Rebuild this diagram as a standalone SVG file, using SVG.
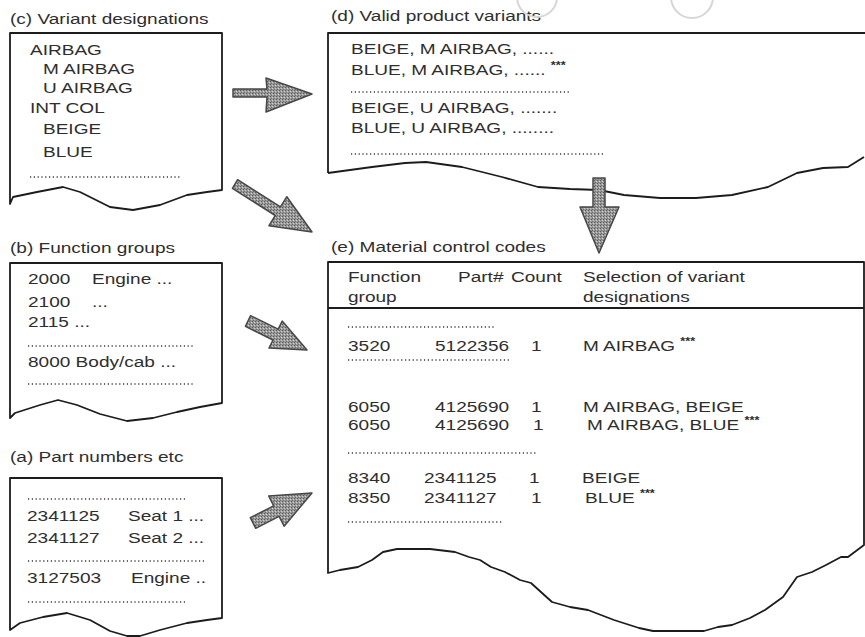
<svg xmlns="http://www.w3.org/2000/svg" width="865" height="637" viewBox="0 0 865 637">
<defs>
<style>
.t{font-family:"Liberation Sans",Arial,sans-serif;font-size:15px;fill:#2e2e2e;transform-box:fill-box;transform-origin:0 0;transform:scaleX(1.27)}
.ast{font-size:10px;font-weight:bold}
.box{fill:#fff;stroke:#1c1c1c;stroke-width:1.8;stroke-linejoin:round}
.open{fill:none;stroke:#1c1c1c;stroke-width:1.8;stroke-linejoin:round}
.dot{stroke:#3a3a3a;stroke-width:1.3;stroke-dasharray:1.2 2.6;fill:none}
.arrow{fill:url(#stipple);stroke:#474747;stroke-width:1.5;stroke-linejoin:round}
.hole{fill:none;stroke:#d6d6d6;stroke-width:2}
</style>
<pattern id="stipple" width="3" height="3" patternUnits="userSpaceOnUse">
<rect width="3" height="3" fill="#9a9a9a"/>
<rect width="1" height="1" fill="#5a5a5a"/>
<rect x="2" y="1" width="1" height="1" fill="#cfcfcf"/>
<rect x="1" y="2" width="1" height="1" fill="#6e6e6e"/>
</pattern>
</defs>
<rect width="865" height="637" fill="#fff"/>

<g id="panel-c">
<text class="t" x="10" y="24">(c) Variant designations</text>
<path class="box" d="M10,204 L10,33 L222,33 L222,190 L207,192 L187,195 L160,205 L133,210 L110,207 L80,192 L63,187 L37,192 L13,197 Z"/>
<text class="t" x="30" y="55">AIRBAG</text>
<text class="t" x="43" y="74">M AIRBAG</text>
<text class="t" x="43" y="93">U AIRBAG</text>
<text class="t" x="30" y="113">INT COL</text>
<text class="t" x="43" y="134">BEIGE</text>
<text class="t" x="43" y="157">BLUE</text>
<line class="dot" x1="30" y1="177" x2="180" y2="177"/>
</g>

<g id="panel-b">
<text class="t" x="10" y="253">(b) Function groups</text>
<path class="box" d="M10,418 L10,263 L222,263 L222,403 L200,407 L177,412 L153,418 L127,421 L100,414 L77,405 L58,400 L40,405 L15,413 Z"/>
<text class="t" x="28" y="284">2000</text>
<text class="t" x="92" y="284">Engine ...</text>
<text class="t" x="28" y="307">2100</text>
<text class="t" x="92" y="307">...</text>
<text class="t" x="28" y="327">2115 ...</text>
<line class="dot" x1="28" y1="346" x2="193" y2="346"/>
<text class="t" x="28" y="367">8000 Body/cab ...</text>
<line class="dot" x1="28" y1="384" x2="193" y2="384"/>
</g>

<g id="panel-a">
<text class="t" x="10" y="462">(a) Part numbers etc</text>
<path class="box" d="M10,630 L10,478 L222,478 L222,618 L207,620 L187,623 L160,630 L140,636 L127,636 L110,631 L90,620 L67,613 L43,617 L20,623 Z"/>
<line class="dot" x1="28" y1="499" x2="187" y2="499"/>
<text class="t" x="27" y="521">2341125</text>
<text class="t" x="128" y="521">Seat 1 ...</text>
<text class="t" x="27" y="543">2341127</text>
<text class="t" x="128" y="543">Seat 2 ...</text>
<line class="dot" x1="28" y1="561" x2="205" y2="561"/>
<text class="t" x="27" y="583">3127503</text>
<text class="t" x="131" y="583">Engine ..</text>
<line class="dot" x1="28" y1="602" x2="187" y2="602"/>
</g>

<g id="panel-d">
<text class="t" x="331" y="21">(d) Valid product variants</text>
<path class="open" d="M328,173 L328,33 L865,33 M864,157 L848,167 L823,168 L797,173 L768,187 L732,195 L696,198 L660,198 L624,195 L599,190 L570,189 L538,187 L502,177 L462,167 L426,162 L405,163 L372,167 L328,173"/>
<text class="t" x="351" y="54">BEIGE, M AIRBAG, ......</text>
<text class="t" x="351" y="75">BLUE, M AIRBAG, ...... <tspan class="ast" dy="-6">***</tspan></text>
<line class="dot" x1="351" y1="92" x2="569" y2="92"/>
<text class="t" x="351" y="113">BEIGE, U AIRBAG, .......</text>
<text class="t" x="351" y="133">BLUE, U AIRBAG, ........</text>
<line class="dot" x1="351" y1="154" x2="605" y2="154"/>
</g>

<g id="panel-e">
<text class="t" x="331" y="252">(e) Material control codes</text>
<path class="box" d="M328,573 L328,262 L864,262 L864,545 L848,557 L841,557 L826,565 L812,572 L797,577 L783,597 L765,610 L750,618 L732,625 L718,627 L704,631 L653,631 L639,628 L614,620 L588,610 L570,607 L552,602 L531,583 L520,580 L505,572 L491,567 L480,560 L469,557 L455,552 L430,549 L397,549 L383,552 L372,560 L358,567 L340,570 Z"/>
<line class="open" x1="328" y1="308" x2="864" y2="308"/>
<text class="t" x="348" y="282">Function</text>
<text class="t" x="458" y="282">Part#</text>
<text class="t" x="511" y="282">Count</text>
<text class="t" x="583" y="282">Selection of variant</text>
<text class="t" x="348" y="302">group</text>
<text class="t" x="583" y="302">designations</text>
<line class="dot" x1="348" y1="327" x2="496" y2="327"/>
<text class="t" x="348" y="351">3520</text>
<text class="t" x="435" y="351">5122356</text>
<text class="t" x="531" y="351">1</text>
<text class="t" x="583" y="351">M AIRBAG <tspan class="ast" dy="-6">***</tspan></text>
<line class="dot" x1="348" y1="360" x2="509" y2="360"/>
<text class="t" x="348" y="412">6050</text>
<text class="t" x="435" y="412">4125690</text>
<text class="t" x="531" y="412">1</text>
<text class="t" x="583" y="412">M AIRBAG, BEIGE</text>
<text class="t" x="348" y="430">6050</text>
<text class="t" x="435" y="430">4125690</text>
<text class="t" x="533" y="430">1</text>
<text class="t" x="587" y="430">M AIRBAG, BLUE <tspan class="ast" dy="-6">***</tspan></text>
<line class="dot" x1="348" y1="453" x2="538" y2="453"/>
<text class="t" x="348" y="483">8340</text>
<text class="t" x="424" y="483">2341125</text>
<text class="t" x="529" y="483">1</text>
<text class="t" x="582" y="483">BEIGE</text>
<text class="t" x="348" y="503">8350</text>
<text class="t" x="424" y="503">2341127</text>
<text class="t" x="531" y="503">1</text>
<text class="t" x="585" y="503">BLUE <tspan class="ast" dy="-6">***</tspan></text>
<line class="dot" x1="348" y1="522" x2="502" y2="522"/>
</g>

<g id="connectors">
<polygon class="arrow" points="233,89 267,89 266,78 312,94 266,112 267,97 233,97"/>
<polygon class="arrow" points="237.6,179.7 280.5,206.9 286.8,196.7 312,232 269,225.7 275.3,215.5 232.4,188.3"/>
<polygon class="arrow" points="250.6,315.6 278.2,329.2 282.2,321.1 307,350 269,348.1 273,340 245.4,326.4"/>
<polygon class="arrow" points="250.3,517.7 273.7,505.8 268.7,496 312,493 284.1,526.2 279.1,516.4 255.7,528.3"/>
<polygon class="arrow" points="593,178 605,178 605,207 619,207 599,253 580,207 593,207"/>
</g>

<g id="artifacts">
<circle class="hole" cx="537" cy="-3" r="20"/>
<circle class="hole" cx="692" cy="-3" r="21"/>
</g>
</svg>
